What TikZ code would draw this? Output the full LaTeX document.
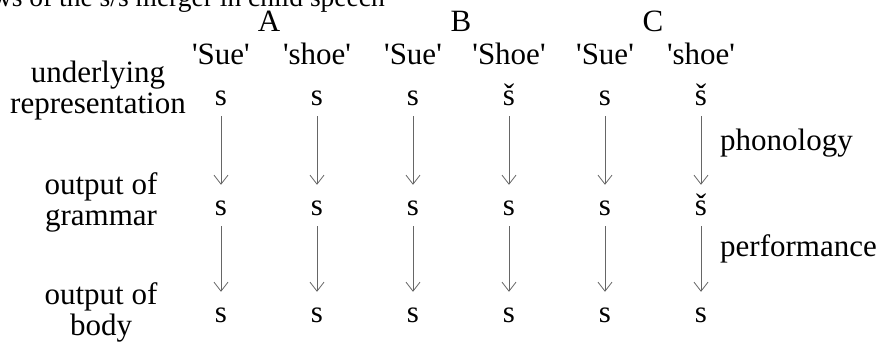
\documentclass[tikz,border=0pt]{standalone}
\usepackage{fontspec}
\setmainfont{Liberation Serif}
\usepackage{tikz}
\usetikzlibrary{arrows.meta}
\usetikzlibrary{positioning}
\tikzset{word/.style = {inner sep=0pt, anchor=base},
         seg/.style = {inner sep=0pt, text height=14pt, text depth=0pt, anchor=base},
         derive/.style = {draw=black!60, line width=0.8pt,
                          -{Straight Barb[length=9pt, width=14pt]},
                          shorten <=11pt, shorten >=16pt}}
\newcommand{\gloss}[1]{\textquotesingle#1\textquotesingle}

\begin{document}
\begin{tikzpicture}[x=1pt, y=-1pt, font=\fontsize{31}{31}\selectfont]
      \useasboundingbox (0, 0) rectangle (880, 341);

      \node [word, anchor=base east, font=\fontsize{27.5}{28}\selectfont] (title) at (385, 6)
            {Three views of the s/š merger in child speech};

      % the three accounts
      \node [word] (A) at (269, 31) {A};
      \node [word] (B) at (461, 31) {B};
      \node [word] (C) at (653, 31) {C};

      % level names (base = last line)
      \node [word, align=center] (ur) at (98, 113) {underlying\\representation};
      \node [word, align=center] (og) at (101, 225) {output of\\grammar};
      \node [word, align=center] (ob) at (101, 335) {output of\\body};

      % one column per word
      \foreach \i/\w/\u/\g in {1/Sue/s/s, 2/shoe/s/s, 3/Sue/s/s,
                               4/Shoe/š/s, 5/Sue/s/s, 6/shoe/š/š} {
        \node [word] (w\i) at (221 + 96*\i - 96, 64) {\gloss{\w}};
        \node [seg] (u\i) at (221 + 96*\i - 96, 105) {\u};
        \node [seg] (g\i) at (221 + 96*\i - 96, 215) {\g};
        \node [seg] (b\i) at (221 + 96*\i - 96, 322) {s};
        \draw [derive] (u\i.south) -- (g\i.north);
        \draw [derive] (g\i.south) -- (b\i.north);
      }

      \node [word, anchor=base west] (phon) at (720, 150) {phonology};
      \node [word, anchor=base west] (perf) at (720, 256) {performance};
    \end{tikzpicture}
\end{document}
